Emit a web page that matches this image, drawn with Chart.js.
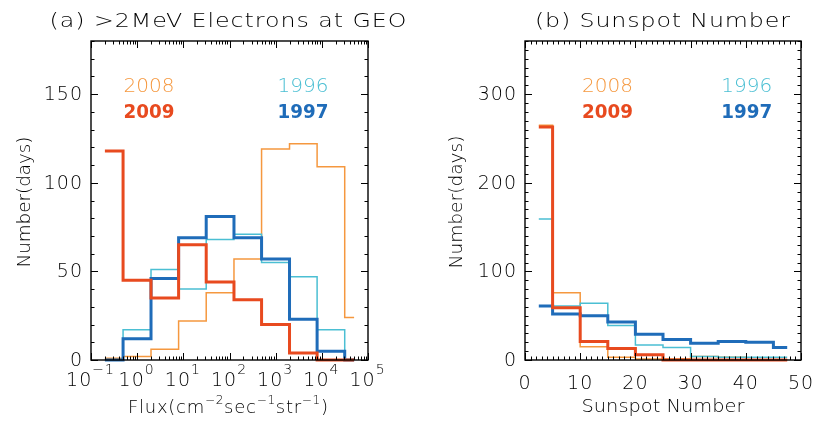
<!DOCTYPE html>
<html>
<head>
<meta charset="utf-8">
<script src="https://cdn.jsdelivr.net/npm/chart.js@4.4.1/dist/chart.umd.min.js"></script>
<style>
    html, body { margin: 0; padding: 0; background: #fff; }
    #wrap { position: relative; width: 814px; height: 421px; }
    canvas { position: absolute; top: 0; }
</style>
</head>
<body>
<div id="wrap">
    <canvas id="fluxChart" width="410" height="421" style="left:0;width:410px;height:421px"></canvas>
    <canvas id="ssnChart" width="404" height="421" style="left:410px;width:404px;height:421px"></canvas>
</div>
<script>
// (a) >2MeV electron flux histogram, bin centres in cm^-2 sec^-1 str^-1
const fluxBins = [0.2, 0.79, 3.2, 12.6, 50, 200, 790, 3200, 12600, 50000];
const flux2008 = [1, 2, 6, 22, 38, 57, 119, 122, 109, 24];
const flux2009 = [118, 45, 35, 65, 44, 34, 20, 4, 0, 0];
const flux1996 = [0, 17, 51, 40, 68, 71, 55, 47, 17, 0];
const flux1997 = [0, 12, 46, 69, 81, 69, 57, 23, 5, 0];

// (b) sunspot number histogram, bin centres
const ssnBins = [2.5, 7.5, 12.5, 17.5, 22.5, 27.5, 32.5, 37.5, 42.5, 47.5];
const ssn2008 = [265, 76, 15, 3, 1, 1, 4, 3, 0, 0];
const ssn2009 = [263, 59, 21, 13, 6, 0, 0, 0, 0, 0];
const ssn1996 = [159, 61, 64, 39, 17, 14, 4, 3, 3, 3];
const ssn1997 = [61, 52, 50, 43, 29, 23, 19, 21, 20, 14];

// tick labels
const fluxXTicks = [0.1, 1, 10, 100, 1000, 10000, 100000];
const fluxYTicks = [0, 50, 100, 150];
const ssnXTicks = [0, 10, 20, 30, 40, 50];
const ssnYTicks = [0, 100, 200, 300];

const COLORS = { y2008: '#f5983f', y2009: '#e84a1f', y1996: '#4bbfd3', y1997: '#1f6cb9' };
const FONT = '"DejaVu Sans", sans-serif';
const WEIGHT = '200';

// IDL psym=10 style steps: horizontal runs meet half way between the bin centres
function histSteps(xs, ys) {
    const pts = [{ x: xs[0], y: ys[0] }];
    for (let i = 1; i < xs.length; i++) {
        const mid = (xs[i - 1] + xs[i]) / 2;
        pts.push({ x: mid, y: ys[i - 1] }, { x: mid, y: ys[i] });
    }
    pts.push({ x: xs[xs.length - 1], y: ys[ys.length - 1] });
    return pts;
}

function histSet(label, xs, ys, color, width) {
    return {
        label: label,
        data: histSteps(xs, ys),
        borderColor: color,
        borderWidth: width,
        pointRadius: 0,
        tension: 0,
        fill: false,
        clip: false
    };
}

// text widened to a given width: glyphs stretched a bit, the rest as spacing
function spacedText(ctx, text, x, y, size, color, width, weight, rotate) {
    ctx.save();
    ctx.font = (weight || WEIGHT) + ' ' + size + 'px ' + FONT;
    ctx.fillStyle = color;
    ctx.textBaseline = 'middle';
    ctx.textAlign = 'left';
    ctx.letterSpacing = '0px';
    const w = ctx.measureText(text).width;
    const sx = Math.min(1.25, width / w);
    const gap = text.length > 1 ? (width / sx - w) / (text.length - 1) : 0;
    ctx.letterSpacing = gap + 'px';
    ctx.translate(x, y);
    if (rotate) ctx.rotate(-Math.PI / 2);
    ctx.scale(sx, 1);
    ctx.fillText(text, -width / 2 / sx, 0);
    ctx.restore();
}

// text made of pieces, some of them raised superscripts
function richText(ctx, pieces, cx, cy, size, supSize, supRise, width) {
    ctx.save();
    ctx.fillStyle = '#000';
    ctx.textBaseline = 'middle';
    ctx.textAlign = 'left';
    ctx.letterSpacing = '0px';
    let natural = 0, chars = 0;
    pieces.forEach(p => {
        ctx.font = WEIGHT + ' ' + (p[1] ? supSize : size) + 'px ' + FONT;
        natural += ctx.measureText(p[0]).width;
        chars += p[0].length;
    });
    const gap = width ? (width - natural) / (chars - 1) : 1;
    let x = cx - (width || natural + gap * (chars - 1)) / 2;
    ctx.letterSpacing = gap + 'px';
    pieces.forEach(p => {
        ctx.font = WEIGHT + ' ' + (p[1] ? supSize : size) + 'px ' + FONT;
        ctx.fillText(p[0], x, p[1] ? cy - supRise : cy);
        x += ctx.measureText(p[0]).width;
    });
    ctx.restore();
}

function line(ctx, x1, y1, x2, y2) {
    ctx.beginPath();
    ctx.moveTo(x1, y1);
    ctx.lineTo(x2, y2);
    ctx.stroke();
}

// box, inward ticks on all four sides, tick labels and the texts
const frameAxes = {
    id: 'frameAxes',
    afterDraw(chart, args, o) {
        const ctx = chart.ctx;
        const a = chart.chartArea;
        const xs = chart.scales.x, ys = chart.scales.y;
        ctx.save();
        ctx.strokeStyle = '#000';
        ctx.lineWidth = 1;
        o.xMinor.forEach(v => {
            const p = Math.round(xs.getPixelForValue(v)) + 0.5;
            line(ctx, p, a.bottom, p, a.bottom - 3.5);
            line(ctx, p, a.top, p, a.top + 3.5);
        });
        o.yMinor.forEach(v => {
            const p = Math.round(ys.getPixelForValue(v)) + 0.5;
            line(ctx, a.left, p, a.left + 3.5, p);
            line(ctx, a.right, p, a.right - 3.5, p);
        });
        xs.ticks.forEach(t => {
            const p = Math.round(xs.getPixelForValue(t.value)) + 0.5;
            line(ctx, p, a.bottom, p, a.bottom - 7);
            line(ctx, p, a.top, p, a.top + 7);
        });
        ys.ticks.forEach(t => {
            const p = Math.round(ys.getPixelForValue(t.value)) + 0.5;
            line(ctx, a.left, p, a.left + 7, p);
            line(ctx, a.right, p, a.right - 7, p);
        });
        ctx.lineWidth = 1.4;
        ctx.strokeRect(a.left, a.top, a.right - a.left, a.bottom - a.top);

        ctx.fillStyle = '#000';
        ctx.font = WEIGHT + ' 19px ' + FONT;
        ctx.letterSpacing = '1px';
        ctx.textBaseline = 'middle';
        ctx.textAlign = 'right';
        ys.ticks.forEach(t => {
            ctx.fillText(String(t.value), a.left - 8, ys.getPixelForValue(t.value) + 1);
        });
        xs.ticks.forEach(t => {
            const p = xs.getPixelForValue(t.value);
            if (o.logLabels) {
                const e = Math.round(Math.log10(t.value));
                richText(ctx, [['10', 0], [e < 0 ? '\u2212' + (-e) : String(e), 1]], p - 1, a.bottom + 21, 19, 14, 11);
            } else {
                ctx.textAlign = 'center';
                ctx.fillText(String(t.value), p, a.bottom + 24);
            }
        });
        ctx.restore();

        o.texts.forEach(t => spacedText(ctx, t.text, t.x, t.y, t.size, t.color || '#000', t.width, t.weight, t.rotate));
        if (o.rich) {
            richText(ctx, o.rich.pieces, o.rich.x, o.rich.y, 18, 12, 7, o.rich.width);
        }
    }
};

function minorRange(from, to, step) {
    const out = [];
    for (let v = from; v <= to + 1e-9; v += step) out.push(v);
    return out;
}

const logMinor = [];
for (let e = -1; e < 5; e++) {
    for (let m = 2; m <= 9; m++) logMinor.push(m * Math.pow(10, e));
}

// (a) electrons at GEO
new Chart(document.getElementById('fluxChart'), {
    type: 'line',
    data: {
        datasets: [
            histSet('2009', fluxBins, flux2009, COLORS.y2009, 3),
            histSet('1997', fluxBins, flux1997, COLORS.y1997, 3),
            histSet('1996', fluxBins, flux1996, COLORS.y1996, 1.5),
            histSet('2008', fluxBins, flux2008, COLORS.y2008, 1.5)
        ]
    },
    options: {
        responsive: false,
        animation: false,
        events: [],
        layout: { padding: { left: 91, right: 42, top: 41, bottom: 61 } },
        plugins: {
            legend: { display: false },
            tooltip: { enabled: false },
            frameAxes: {
                xMinor: logMinor,
                yMinor: minorRange(0, 180, 10),
                logLabels: true,
                texts: [
                    { text: '(a) >2MeV Electrons at GEO', x: 228, y: 22, size: 19, width: 357 },
                    { text: 'Number(days)', x: 25, y: 202, size: 18, width: 131, rotate: true },
                    { text: '2008', x: 149, y: 87, size: 20, width: 51, color: COLORS.y2008 },
                    { text: '2009', x: 149, y: 113, size: 20, width: 51, color: COLORS.y2009, weight: 'bold' },
                    { text: '1996', x: 303, y: 87, size: 20, width: 51, color: COLORS.y1996 },
                    { text: '1997', x: 303, y: 113, size: 20, width: 51, color: COLORS.y1997, weight: 'bold' }
                ],
                rich: {
                    pieces: [['Flux(cm', 0], ['\u22122', 1], ['sec', 0], ['\u22121', 1], ['str', 0], ['\u22121', 1], [')', 0]],
                    x: 228, y: 408, width: 200
                }
            }
        },
        scales: {
            x: {
                type: 'logarithmic', min: 0.1, max: 1e5, display: false,
                ticks: { autoSkip: false },
                afterBuildTicks: s => { s.ticks = fluxXTicks.map(v => ({ value: v })); }
            },
            y: {
                type: 'linear', min: 0, max: 180, display: false,
                ticks: { autoSkip: false },
                afterBuildTicks: s => { s.ticks = fluxYTicks.map(v => ({ value: v })); }
            }
        }
    },
    plugins: [frameAxes]
});

// (b) sunspot number
new Chart(document.getElementById('ssnChart'), {
    type: 'line',
    data: {
        datasets: [
            histSet('2009', ssnBins, ssn2009, COLORS.y2009, 3),
            histSet('1997', ssnBins, ssn1997, COLORS.y1997, 3),
            histSet('1996', ssnBins, ssn1996, COLORS.y1996, 1.5),
            histSet('2008', ssnBins, ssn2008, COLORS.y2008, 1.5)
        ]
    },
    options: {
        responsive: false,
        animation: false,
        events: [],
        layout: { padding: { left: 115, right: 13, top: 41, bottom: 61 } },
        plugins: {
            legend: { display: false },
            tooltip: { enabled: false },
            frameAxes: {
                xMinor: minorRange(0, 50, 1),
                yMinor: minorRange(0, 360, 10),
                logLabels: false,
                texts: [
                    { text: '(b) Sunspot Number', x: 252.5, y: 22, size: 19, width: 255 },
                    { text: 'Number(days)', x: 47, y: 202, size: 18, width: 133, rotate: true },
                    { text: 'Sunspot Number', x: 253, y: 407, size: 18, width: 163 },
                    { text: '2008', x: 197.5, y: 87, size: 20, width: 51, color: COLORS.y2008 },
                    { text: '2009', x: 197.5, y: 113, size: 20, width: 51, color: COLORS.y2009, weight: 'bold' },
                    { text: '1996', x: 336.7, y: 87, size: 20, width: 51, color: COLORS.y1996 },
                    { text: '1997', x: 336.7, y: 113, size: 20, width: 51, color: COLORS.y1997, weight: 'bold' }
                ]
            }
        },
        scales: {
            x: {
                type: 'linear', min: 0, max: 50, display: false,
                ticks: { autoSkip: false },
                afterBuildTicks: s => { s.ticks = ssnXTicks.map(v => ({ value: v })); }
            },
            y: {
                type: 'linear', min: 0, max: 360, display: false,
                ticks: { autoSkip: false },
                afterBuildTicks: s => { s.ticks = ssnYTicks.map(v => ({ value: v })); }
            }
        }
    },
    plugins: [frameAxes]
});
</script>
</body>
</html>
